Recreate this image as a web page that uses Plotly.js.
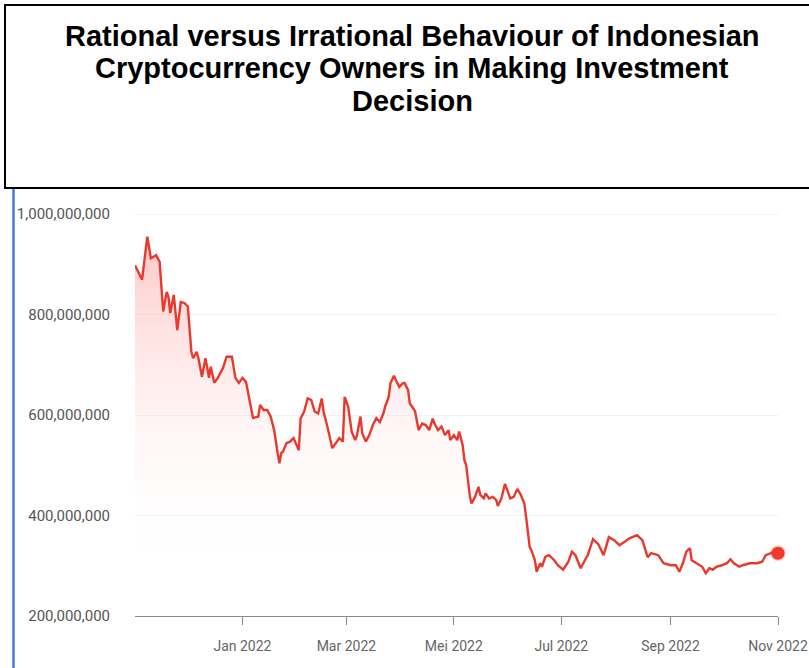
<!DOCTYPE html>
<html>
<head>
<meta charset="utf-8">
<script src="https://cdn.plot.ly/plotly-3.0.1.min.js"></script>
<style>
  html, body { margin: 0; padding: 0; background: #ffffff; }
  #chart { width: 809px; height: 668px; }
</style>
</head>
<body>
<div id="chart"></div>
<script>
// Daily closing value sampled through the year (Nov 2021 - Nov 2022)
const dates = [
  '2021-11-01','2021-11-05','2021-11-08','2021-11-10','2021-11-13','2021-11-15','2021-11-16','2021-11-17',
  '2021-11-19','2021-11-20','2021-11-21','2021-11-23','2021-11-25','2021-11-27','2021-11-29',
  '2021-12-01','2021-12-03','2021-12-04','2021-12-06','2021-12-07','2021-12-09','2021-12-11','2021-12-13',
  '2021-12-14','2021-12-16','2021-12-18','2021-12-21','2021-12-23','2021-12-26','2021-12-28','2021-12-30',
  '2022-01-01','2022-01-03','2022-01-05','2022-01-07','2022-01-10','2022-01-11','2022-01-13','2022-01-15',
  '2022-01-17','2022-01-19','2022-01-21','2022-01-22','2022-01-23','2022-01-24','2022-01-26','2022-01-28','2022-01-30',
  '2022-02-01','2022-02-02','2022-02-03','2022-02-05','2022-02-07','2022-02-09','2022-02-11','2022-02-13',
  '2022-02-15','2022-02-16','2022-02-18','2022-02-20','2022-02-21','2022-02-23','2022-02-25','2022-02-27','2022-02-28',
  '2022-03-02','2022-03-04','2022-03-06','2022-03-07','2022-03-09','2022-03-10','2022-03-12','2022-03-14',
  '2022-03-16','2022-03-18','2022-03-20','2022-03-22','2022-03-23','2022-03-25','2022-03-26','2022-03-28','2022-03-29','2022-03-31',
  '2022-04-02','2022-04-03','2022-04-05','2022-04-06','2022-04-08','2022-04-09','2022-04-11','2022-04-13',
  '2022-04-15','2022-04-17','2022-04-19','2022-04-20','2022-04-22','2022-04-24','2022-04-26','2022-04-28','2022-04-29',
  '2022-05-01','2022-05-03','2022-05-04','2022-05-06','2022-05-07','2022-05-08','2022-05-09','2022-05-10',
  '2022-05-11','2022-05-13','2022-05-15','2022-05-16','2022-05-18','2022-05-19','2022-05-21','2022-05-23',
  '2022-05-25','2022-05-26','2022-05-28','2022-05-30',
  '2022-06-01','2022-06-02','2022-06-04','2022-06-06','2022-06-08','2022-06-10','2022-06-11','2022-06-13',
  '2022-06-14','2022-06-16','2022-06-17','2022-06-19','2022-06-20','2022-06-22','2022-06-24','2022-06-27','2022-06-29',
  '2022-07-02','2022-07-05','2022-07-07','2022-07-09','2022-07-12','2022-07-15','2022-07-16','2022-07-19',
  '2022-07-22','2022-07-25','2022-07-28','2022-07-31',
  '2022-08-03','2022-08-06','2022-08-09','2022-08-13','2022-08-16','2022-08-19','2022-08-21','2022-08-25','2022-08-28',
  '2022-09-01','2022-09-04','2022-09-06','2022-09-08','2022-09-10','2022-09-12','2022-09-13','2022-09-16',
  '2022-09-19','2022-09-21','2022-09-23','2022-09-25','2022-09-27','2022-09-30',
  '2022-10-03','2022-10-05','2022-10-07','2022-10-10','2022-10-12','2022-10-16','2022-10-20','2022-10-23',
  '2022-10-25','2022-10-28','2022-10-30','2022-11-01'
];

const values = [
  898e6, 869e6, 955e6, 912e6, 918e6, 905e6, 855e6, 806e6,
  845e6, 835e6, 803e6, 839e6, 769e6, 825e6, 823e6,
  816e6, 726e6, 713e6, 726e6, 713e6, 676e6, 713e6, 674e6,
  696e6, 664e6, 674e6, 694e6, 716e6, 716e6, 674e6, 664e6,
  674e6, 666e6, 626e6, 594e6, 597e6, 620e6, 610e6, 610e6,
  597e6, 570e6, 524e6, 504e6, 524e6, 527e6, 544e6, 547e6, 554e6,
  540e6, 530e6, 593e6, 607e6, 633e6, 630e6, 607e6, 603e6,
  633e6, 607e6, 580e6, 547e6, 534e6, 544e6, 554e6, 547e6, 636e6,
  617e6, 567e6, 550e6, 560e6, 597e6, 564e6, 547e6, 560e6,
  580e6, 594e6, 586e6, 603e6, 617e6, 636e6, 663e6, 678e6, 670e6, 656e6,
  663e6, 664e6, 650e6, 623e6, 613e6, 607e6, 570e6, 583e6,
  580e6, 570e6, 593e6, 583e6, 570e6, 577e6, 560e6, 570e6, 550e6,
  560e6, 550e6, 567e6, 540e6, 510e6, 500e6, 467e6, 441e6,
  424e6, 437e6, 457e6, 441e6, 434e6, 444e6, 434e6, 437e6,
  431e6, 419e6, 434e6, 463e6,
  444e6, 434e6, 437e6, 453e6, 441e6, 424e6, 398e6, 338e6,
  331e6, 311e6, 288e6, 305e6, 298e6, 318e6, 321e6, 311e6, 301e6,
  292e6, 308e6, 328e6, 321e6, 295e6, 315e6, 321e6, 353e6,
  343e6, 321e6, 357e6, 351e6,
  341e6, 348e6, 355e6, 361e6, 351e6, 317e6, 325e6, 321e6, 305e6,
  301e6, 301e6, 288e6, 305e6, 328e6, 335e6, 311e6, 305e6,
  298e6, 285e6, 295e6, 292e6, 298e6, 301e6,
  305e6, 313e6, 305e6, 298e6, 301e6, 305e6, 305e6, 308e6,
  321e6, 325e6, 328e6, 325e6
];

// Axis ticks
const monthTicks = ['2022-01-01', '2022-03-01', '2022-05-01', '2022-07-01', '2022-09-01', '2022-11-01'];
const monthLabels = ['Jan 2022', 'Mar 2022', 'Mei 2022', 'Jul 2022', 'Sep 2022', 'Nov 2022'];
const valueTicks = [200e6, 400e6, 600e6, 800e6, 1000e6];

// Heading, one entry per line of the boxed title
const titleLines = [
  'Rational versus Irrational Behaviour of Indonesian',
  'Cryptocurrency Owners in Making Investment',
  'Decision'
];

const lineColor = '#e8392e';

const traces = [
  {
    type: 'scatter',
    mode: 'lines',
    x: dates,
    y: values,
    line: { color: lineColor, width: 2.4 },
    fill: 'tozeroy',
    fillgradient: {
      type: 'vertical',
      start: 300e6,
      stop: 950e6,
      colorscale: [[0, 'rgba(255,255,255,0)'], [1, 'rgba(255,110,110,0.38)']]
    },
    hoverinfo: 'skip'
  },
  {
    // latest value marker
    type: 'scatter',
    mode: 'markers',
    x: [dates[dates.length - 1]],
    y: [values[values.length - 1]],
    marker: { color: '#f23a2b', size: 13, line: { color: 'rgba(242,58,43,0.25)', width: 3 } },
    cliponaxis: false,
    hoverinfo: 'skip'
  }
];

// Plot-area geometry in pixels, used to place the frame and heading in paper units
const W = 809, H = 668, L = 135, R = 31, T = 209, B = 52;
const pw = W - L - R, ph = H - T - B;
const px = v => (v - L) / pw;
const py = v => (H - B - v) / ph;

const headingRows = [36, 68.5, 101];
const annotations = titleLines.map((txt, i) => ({
  text: '<b>' + txt + '</b>',
  xref: 'paper', yref: 'paper',
  x: px(412), y: py(headingRows[i]),
  xanchor: 'center', yanchor: 'middle',
  showarrow: false,
  font: { family: 'Liberation Sans, Arial, sans-serif', size: 29, color: '#000000' }
}));

const layout = {
  width: W,
  height: H,
  margin: { l: L, r: R, t: T, b: B, pad: 0 },
  paper_bgcolor: '#ffffff',
  plot_bgcolor: '#ffffff',
  showlegend: false,
  hovermode: false,
  annotations: annotations,
  xaxis: {
    type: 'date',
    range: ['2021-11-01', '2022-11-01'],
    tickmode: 'array',
    tickvals: monthTicks,
    ticktext: monthLabels,
    showgrid: false,
    zeroline: false,
    showline: true,
    linecolor: '#8a8a8a',
    linewidth: 1,
    ticks: 'outside',
    ticklen: 8,
    tickwidth: 1,
    tickcolor: '#8a8a8a',
    ticklabelstandoff: 9,
    tickfont: { family: 'Roboto, sans-serif', size: 14, color: '#666666' },
    fixedrange: true
  },
  yaxis: {
    range: [200e6, 1010e6],
    tickmode: 'array',
    tickvals: valueTicks,
    tickformat: ',d',
    showgrid: true,
    gridcolor: '#f2f2f2',
    gridwidth: 1,
    zeroline: false,
    showline: false,
    ticks: 'outside',
    ticklen: 21,
    tickcolor: 'rgba(0,0,0,0)',
    tickfont: { family: 'Roboto, sans-serif', size: 15, color: '#555555' },
    fixedrange: true
  },
  shapes: [
    {
      // frame around the heading block
      type: 'rect', xref: 'paper', yref: 'paper',
      x0: px(5), x1: px(816), y0: py(188), y1: py(5),
      line: { color: '#000000', width: 2 },
      fillcolor: 'rgba(0,0,0,0)',
      layer: 'above'
    },
    {
      // blue rule down the left side of the chart panel
      type: 'line', xref: 'paper', yref: 'paper',
      x0: px(13.5), x1: px(13.5), y0: py(680), y1: py(189),
      line: { color: '#4a7bd4', width: 2.5 },
      layer: 'above'
    }
  ]
};

Plotly.newPlot('chart', traces, layout, { displayModeBar: false, staticPlot: true });
</script>
</body>
</html>
